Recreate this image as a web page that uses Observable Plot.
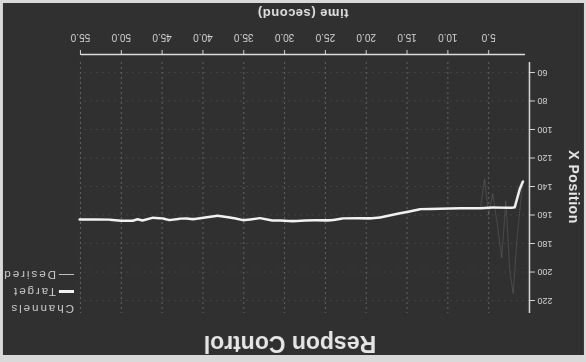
<!DOCTYPE html>
<html>
<head>
<meta charset="utf-8">
<script src="https://cdn.jsdelivr.net/npm/d3@7"></script>
<script src="https://cdn.jsdelivr.net/npm/@observablehq/plot@0.6"></script>
<style>
  html, body { margin: 0; padding: 0; background: #d9d9d9; overflow: hidden; }
  #root { position: relative; width: 586px; height: 362px; transform: rotate(180deg); transform-origin: 50% 50%; font-family: "Liberation Sans", Arial, sans-serif; }
  #panel { position: absolute; left: 2px; top: 7px; width: 581px; height: 352px; background: #303030; }
  #chart { position: absolute; left: 0; top: 0; }
  .title { position: absolute; left: 296px; top: 5px; transform: translateX(-50%); color: #e6e6e6; font-weight: bold; font-size: 23px; white-space: nowrap; }
  .ylab { position: absolute; left: 12px; top: 175px; transform: translate(-50%, -50%) rotate(-90deg); color: #e6e6e6; font-weight: bold; font-size: 14px; white-space: nowrap; letter-spacing: 0.5px; }
  .xlab { position: absolute; left: 283px; top: 341px; transform: translateX(-50%); color: #e0e0e0; font-weight: bold; font-size: 13px; white-space: nowrap; letter-spacing: 0.5px; }
  .legend { position: absolute; left: 512px; top: 45px; color: #cfcfcf; font-size: 11.5px; letter-spacing: 2px; line-height: 17px; white-space: nowrap; }
  .legend .sw { display: inline-block; width: 15px; vertical-align: middle; margin-right: 3px; }
</style>
</head>
<body>
<div id="root">
  <div id="panel"></div>
  <div id="chart"></div>
  <div class="title">Respon Control</div>
  <div class="ylab">X Position</div>
  <div class="xlab">time (second)</div>
  <div class="legend">
    <div>Channels</div>
    <div><span class="sw" style="border-top:3px solid #f2f2f2"></span>Target</div>
    <div><span class="sw" style="border-top:1.5px solid #bdbdbd"></span>Desired</div>
  </div>
</div>
<script>
// Tick values
const xTicks = [5, 10, 15, 20, 25, 30, 35, 40, 45, 50, 55];
const yTicks = [60, 80, 100, 120, 140, 160, 180, 200, 220];

// Target series (time in seconds, X position)
const targetT = [0.8, 1.2, 1.8, 2.2, 4.5, 6.0, 8.5, 11.0, 13.4, 14.7, 16.0, 18.3, 19.6, 21.0, 22.9, 24.0, 24.8, 26.2, 27.5, 29.0, 30.5, 31.5, 33.0, 34.2, 35.1, 36.0, 36.7, 38.2, 39.5, 41.2, 42.0, 42.8, 44.1, 44.9, 46.2, 47.4, 48.0, 48.6, 50.0, 51.4, 53.0, 55.1];
const targetV = [136.5, 142, 154.5, 155, 154.8, 155.2, 155.3, 155.6, 156, 157.5, 159, 161.8, 162.4, 162.2, 162.5, 163.5, 163.9, 163.6, 163.9, 164.3, 163.8, 163.9, 162.2, 163.2, 163.6, 162.4, 161.8, 160.6, 161.6, 163.0, 162.4, 162.6, 163.6, 162.4, 162.0, 163.8, 163.0, 164.0, 164.1, 163.4, 163.2, 163.2];

// Desired series (faint in the scan)
const desiredT = [0.9, 1.5, 2.0, 2.4, 2.9, 3.4, 3.9, 4.5, 5.0, 5.5, 6.0];
const desiredV = [140, 175, 215, 200, 150, 190, 168, 145, 160, 135, 155];

const target = targetT.map((t, i) => ({t, v: targetV[i]}));
const desired = desiredT.map((t, i) => ({t, v: desiredV[i]}));

const yMin = 47.4, yMax = 228.4;

const chart = Plot.plot({
  width: 586,
  height: 362,
  marginLeft: 56,
  marginRight: 81,
  marginTop: 49,
  marginBottom: 55,
  style: {background: "transparent", color: "#d6d6d6", fontFamily: "'Liberation Sans', Arial, sans-serif", fontSize: "10px"},
  x: {domain: [0, 55], label: null},
  y: {domain: [yMin, yMax], label: null},
  marks: [
    Plot.ruleX(xTicks, {y1: 52.3, y2: yMax, stroke: "#c8c8c8", strokeOpacity: 0.35, strokeDasharray: "2,3"}),
    Plot.ruleY(yTicks, {x1: 0, x2: 55, stroke: "#c8c8c8", strokeOpacity: 0.12, strokeDasharray: "2,4"}),
    Plot.axisX({ticks: xTicks, tickFormat: d => d.toFixed(1), tickSize: 5, tickPadding: 8, fontSize: 10, label: null, stroke: "#d6d6d6"}),
    Plot.ruleY([yMin], {x1: 0.6, x2: 55, stroke: "#dcdcdc", strokeWidth: 1.5}),
    Plot.axisY({ticks: yTicks, tickSize: 5, tickPadding: 3, fontSize: 9, label: null, stroke: "#d6d6d6"}),
    Plot.ruleX([0], {y1: 52.3, y2: yMax, stroke: "#dcdcdc", strokeWidth: 1.5}),
    Plot.line(desired, {x: "t", y: "v", stroke: "#9a9a9a", strokeOpacity: 0.25, strokeWidth: 1}),
    Plot.line(target, {x: "t", y: "v", stroke: "#f2f2f2", strokeWidth: 2.5, curve: "linear"})
  ]
});
document.getElementById("chart").appendChild(chart);
</script>
</body>
</html>
